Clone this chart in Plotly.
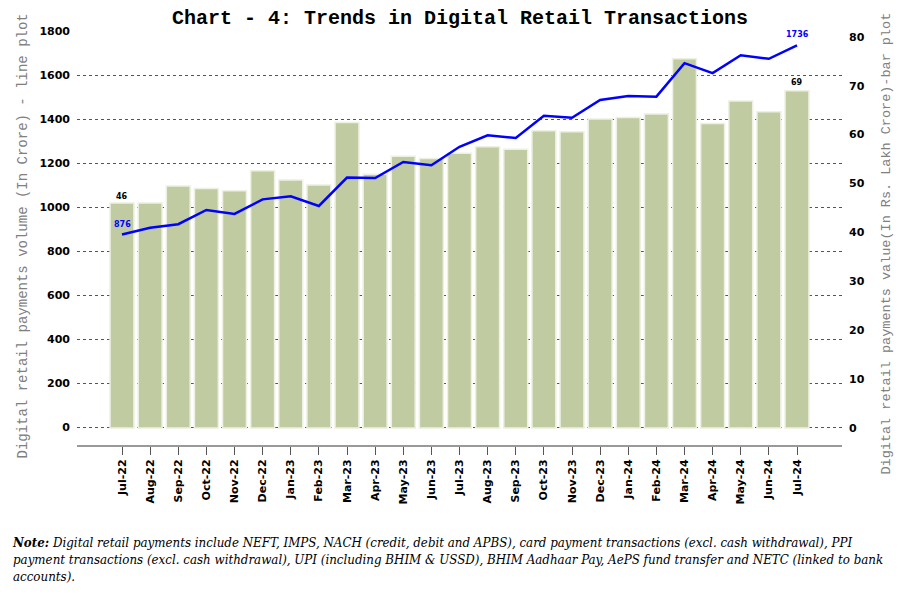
import plotly.graph_objects as go

months = ["Jul-22", "Aug-22", "Sep-22", "Oct-22", "Nov-22", "Dec-22", "Jan-23", "Feb-23",
          "Mar-23", "Apr-23", "May-23", "Jun-23", "Jul-23", "Aug-23", "Sep-23", "Oct-23",
          "Nov-23", "Dec-23", "Jan-24", "Feb-24", "Mar-24", "Apr-24", "May-24", "Jun-24", "Jul-24"]

# Volume (In Crore) - line plot, left axis
volume = [876, 907, 923, 988, 970, 1036, 1050, 1006, 1135, 1133, 1206, 1191, 1275,
          1327, 1315, 1416, 1407, 1488, 1506, 1503, 1655, 1610, 1691, 1675, 1736]

# Value (In Rs. Lakh Crore) - bar plot, right axis
value = [46, 46.0, 49.5, 49.0, 48.5, 52.6, 50.7, 49.7, 62.5, 51.9, 55.6, 55.1, 56.2,
         57.5, 57.0, 60.8, 60.6, 63.2, 63.5, 64.2, 75.5, 62.3, 66.9, 64.7, 69]

left_ticks = list(range(0, 1801, 200))
right_ticks = list(range(0, 81, 10))

title_text = "Chart - 4: Trends in Digital Retail Transactions"
left_title = "Digital retail payments volume (In Crore) - line plot"
right_title = "Digital retail payments value(In Rs. Lakh Crore)-bar plot"
note_text = ("<b>Note:</b> Digital retail payments include NEFT, IMPS, NACH (credit, debit and APBS), card payment transactions (excl. cash withdrawal), PPI<br>"
             "payment transactions (excl. cash withdrawal), UPI (including BHIM &amp; USSD), BHIM Aadhaar Pay, AePS fund transfer and NETC (linked to bank<br>"
             "accounts).")

# page has an 8px body margin, so the figure is sized to fill the rest of the window
OFF = 8
W, H = 909 - OFF, 595 - OFF
L, R, T, B = 77 - OFF, 67, 31 - OFF, 150
PW = W - L - R
PH = H - T - B

def px_x(x):
    return (x - OFF - L) / PW

def px_y(y):
    return (H - B - (y - OFF)) / PH

mono = "Courier New, Liberation Mono, monospace"
sans = "Verdana, DejaVu Sans, sans-serif"

fig = go.Figure()
fig.add_trace(go.Bar(
    x=months, y=value, yaxis="y",
    marker=dict(color="#C1CBA1", line=dict(color="#EDF0E2", width=1.5)),
    showlegend=False, hoverinfo="x+y",
))
fig.add_trace(go.Scatter(
    x=months, y=volume, yaxis="y2", mode="lines",
    line=dict(color="#0000FF", width=2.5),
    showlegend=False,
))

annotations = [
    dict(x=months[0], y=value[0], xref="x", yref="y", text=str(value[0]), showarrow=False,
         yanchor="bottom", yshift=0, font=dict(family=sans, size=8, color="black", weight="bold")),
    dict(x=months[-1], y=value[-1], xref="x", yref="y", text=str(value[-1]), showarrow=False,
         yanchor="bottom", yshift=2, font=dict(family=sans, size=8, color="black", weight="bold")),
    dict(x=months[0], y=volume[0], xref="x", yref="y2", text=str(volume[0]), showarrow=False,
         yanchor="bottom", yshift=4, font=dict(family=sans, size=8, color="#0000FF", weight="bold")),
    dict(x=months[-1], y=volume[-1], xref="x", yref="y2", text=str(volume[-1]), showarrow=False,
         yanchor="bottom", yshift=4, font=dict(family=sans, size=8, color="#0000FF", weight="bold")),
    dict(x=px_x(22), y=px_y(236.5), xref="paper", yref="paper", text=left_title, showarrow=False,
         textangle=-90, xanchor="center", yanchor="middle",
         font=dict(family=mono, size=14, color="#808080")),
    dict(x=px_x(886), y=px_y(243.5), xref="paper", yref="paper", text=right_title, showarrow=False,
         textangle=-90, xanchor="center", yanchor="middle",
         font=dict(family=mono, size=13.5, color="#808080")),
    dict(x=px_x(10), y=px_y(533), xref="paper", yref="paper", text=note_text, showarrow=False,
         xanchor="left", yanchor="top", align="left",
         font=dict(family="DejaVu Serif Condensed", size=13.2, color="black", style="italic")),
]

fig.update_layout(
    width=W, height=H,
    margin=dict(l=L, r=R, t=T, b=B, autoexpand=False),
    paper_bgcolor="white", plot_bgcolor="white",
    bargap=0.15,
    title=dict(text="<b>" + title_text + "</b>", x=px_x(460), xref="paper", xanchor="center",
               y=1 - (17 - OFF) / H, yref="container", yanchor="middle",
               font=dict(family=mono, size=20, color="black")),
    xaxis=dict(
        type="category", range=[-1.6, len(months) - 1 + 1.6],
        showline=True, linecolor="#999999", linewidth=2,
        ticks="outside", ticklen=8, tickcolor="#555555", tickwidth=1,
        tickangle=-90, showgrid=False, zeroline=False,
        tickfont=dict(family=sans, size=11, color="black", weight="bold"),
    ),
    yaxis=dict(
        side="right", range=[-3.5, 81.2], tickvals=right_ticks,
        showgrid=False, zeroline=False, showline=False,
        ticklabelstandoff=6,
        tickfont=dict(family=sans, size=11, color="black", weight="bold"),
    ),
    yaxis2=dict(
        side="left", overlaying="y", range=[-80.5, 1801.3], tickvals=left_ticks,
        showgrid=True, gridcolor="#555555", gridwidth=1, griddash="dot",
        zeroline=False, showline=False,
        ticklabelstandoff=6,
        tickfont=dict(family=sans, size=11, color="black", weight="bold"),
    ),
    annotations=annotations,
)

fig.write_html("out.html")
